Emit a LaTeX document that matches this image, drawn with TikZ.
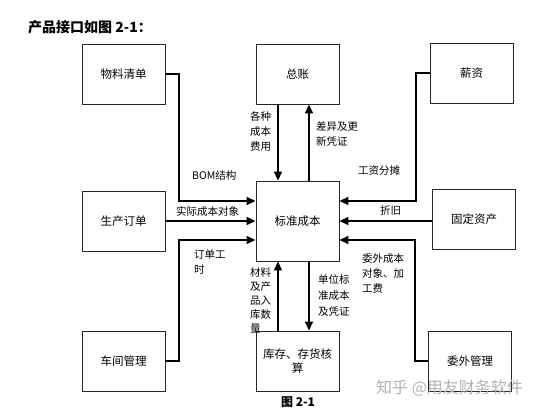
\documentclass[tikz,border=0pt]{standalone}
\usepackage{fontspec}
\setmainfont{Noto Sans CJK SC}
\usetikzlibrary{arrows.meta}
\begin{document}
\begin{tikzpicture}[x=1pt,y=-1pt,
  box/.style={draw=black!85,line width=0.9pt,minimum width=83pt,minimum height=60pt,inner sep=0pt,font=\fontsize{11.5}{14}\selectfont,align=center},
  conn/.style={line width=1.4pt,-{Triangle[length=9pt,width=8pt]}},
  plain/.style={line width=1.4pt},
  lbl/.style={font=\fontsize{10.5}{15}\selectfont,align=left,inner sep=0pt,anchor=north west}]
\useasboundingbox (0,0) rectangle (539,414);
\node[anchor=west,font=\bfseries\fontsize{14}{16}\selectfont,inner sep=0pt] (title) at (28,27) {产品接口如图 2-1：};
\node[box] (bom) at (123.5,74) {物料清单};
\node[box] (gl) at (297.5,74) {总账};
\node[box] (pay) at (471.5,73) {薪资};
\node[box] (po) at (123.5,221) {生产订单};
\node[box,minimum height=80pt] (std) at (297.5,221) {标准成本};
\node[box] (fa) at (474,219) {固定资产};
\node[box] (shop) at (123.5,361) {车间管理};
\node[box] (inv) at (297.5,361) {库存、存货核\\算};
\node[box] (out) at (470,361) {委外管理};
% left side
\coordinate (b1) at (179,74);
\coordinate (b2) at (179,201);
\draw[conn] (bom.east |- b1) -- (b1) -- (b2) -- (std.west |- b2);
\draw[conn] (po.east |- 0,221) -- (std.west |- 0,221);
\coordinate (s1) at (179,361);
\coordinate (s2) at (179,240);
\draw[conn] (shop.east |- s1) -- (s1) -- (s2) -- (std.west |- s2);
% right side
\coordinate (p1) at (416,73);
\coordinate (p2) at (416,201);
\draw[conn] (pay.west |- p1) -- (p1) -- (p2) -- (std.east |- p2);
\draw[conn] (fa.west |- 0,221) -- (std.east |- 0,221);
\coordinate (o1) at (415,361);
\coordinate (o2) at (415,240);
\draw[conn] (out.west |- o1) -- (o1) -- (o2) -- (std.east |- o2);
% vertical
\draw[conn] (gl.south -| 278,0) -- (std.north -| 278,0);
\draw[conn] (std.north -| 309,0) -- (gl.south -| 309,0);
\draw[conn] (inv.north -| 278,0) -- (std.south -| 278,0);
\draw[conn] (std.south -| 309,0) -- (inv.north -| 309,0);
% labels
\node[lbl] (l1) at (250,111) {各种\\成本\\费用};
\node[lbl] (l2) at (316,121) {差异及更\\新凭证};
\node[lbl] (l3) at (192,170) {BOM结构};
\node[lbl] (l4) at (176,206) {实际成本对象};
\node[lbl] (l5) at (194,250) {订单工\\时};
\node[lbl,font=\fontsize{10.5}{14.2}\selectfont] (l6) at (250,267) {材料\\及产\\品入\\库数\\量};
\node[lbl,font=\fontsize{10.5}{16}\selectfont] (l7) at (318,274) {单位标\\准成本\\及凭证};
\node[lbl] (l8) at (358,165) {工资分摊};
\node[lbl] (l9) at (380,205) {折旧};
\node[lbl] (l10) at (362,253) {委外成本\\对象、加\\工费};
\node[anchor=north,font=\bfseries\fontsize{12}{14}\selectfont,inner sep=0pt] (fig) at (298,396) {图 2-1};
\node[anchor=west,font=\fontsize{16}{18}\selectfont,text=black!30,inner sep=0pt] (wm) at (376,388) {知乎 @用友财务软件};
\end{tikzpicture}
\end{document}
